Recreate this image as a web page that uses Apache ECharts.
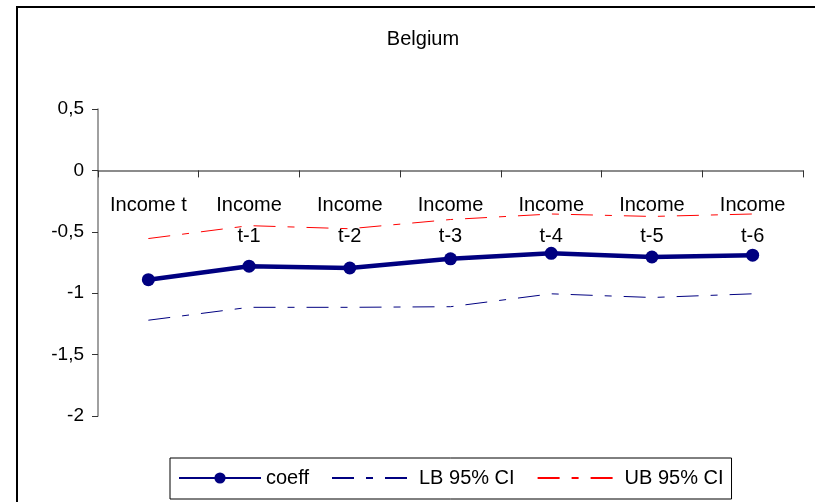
<!DOCTYPE html>
<html>
<head>
<meta charset="utf-8">
<script src="https://cdn.jsdelivr.net/npm/echarts@6/dist/echarts.min.js"></script>
<style>
  html, body { margin: 0; padding: 0; background: #fff; }
  #chart { width: 815px; height: 502px; }
</style>
</head>
<body>
<div id="chart"></div>
<script>
var categories = ['Income t', 'Income\nt-1', 'Income\nt-2', 'Income\nt-3', 'Income\nt-4', 'Income\nt-5', 'Income\nt-6'];
var coeff = [-0.89, -0.78, -0.795, -0.72, -0.675, -0.705, -0.69];
var lowerCI = [-1.22, -1.115, -1.115, -1.11, -1.005, -1.035, -1.005];
var upperCI = [-0.555, -0.45, -0.475, -0.40, -0.355, -0.375, -0.355];

var font = 'Liberation Sans, Arial, sans-serif';
var dash = [22, 12, 7, 12];
var noMarker = { color: 'rgba(0,0,0,0)', borderWidth: 0 };

var chart = echarts.init(document.getElementById('chart'));
chart.setOption({
  animation: false,
  textStyle: { fontFamily: font, color: '#000' },
  graphic: [{
    type: 'rect',
    shape: { x: 17, y: 7, width: 900, height: 600 },
    style: { fill: 'none', stroke: '#000', lineWidth: 2 },
    silent: true
  }],
  title: {
    text: 'Belgium',
    left: 418,
    top: 24,
    textAlign: 'center',
    textStyle: { fontFamily: font, fontSize: 20, fontWeight: 'normal', color: '#000' }
  },
  grid: { left: 98, right: 12, top: 109, bottom: 86, containLabel: false },
  legend: {
    left: 170,
    top: 458,
    padding: [10, 8, 11, 8],
    borderColor: '#000',
    borderWidth: 1,
    backgroundColor: '#fff',
    itemWidth: 82,
    itemHeight: 14,
    itemGap: 22,
    textStyle: { fontFamily: font, fontSize: 20, color: '#000' },
    data: [
      { name: 'coeff' },
      { name: 'LB 95% CI', itemStyle: noMarker },
      { name: 'UB 95% CI', itemStyle: noMarker }
    ]
  },
  xAxis: {
    type: 'category',
    data: categories,
    boundaryGap: true,
    axisLine: { onZero: false, lineStyle: { color: '#666', width: 1.5 } },
    axisTick: { show: true, length: 7, lineStyle: { color: '#333' } },
    axisLabel: {
      interval: 0,
      margin: 20,
      fontFamily: font,
      fontSize: 20,
      lineHeight: 31,
      color: '#000'
    },
    splitLine: { show: false }
  },
  yAxis: {
    type: 'value',
    min: -2,
    max: 0.5,
    interval: 0.5,
    axisLine: { show: true, lineStyle: { color: '#808080', width: 1.5 } },
    axisTick: { show: true, length: 6, lineStyle: { color: '#333' } },
    axisLabel: {
      margin: 14,
      fontFamily: font,
      fontSize: 19,
      color: '#000',
      formatter: function (v) { return String(v).replace('.', ','); }
    },
    splitLine: { show: false }
  },
  series: [
    {
      name: 'coeff',
      type: 'line',
      data: coeff,
      symbol: 'circle',
      symbolSize: 13,
      itemStyle: { color: '#000080' },
      lineStyle: { color: '#000080', width: 4.5 },
      z: 3
    },
    {
      name: 'LB 95% CI',
      type: 'line',
      data: lowerCI,
      symbol: 'none',
      itemStyle: { color: '#000080' },
      lineStyle: { color: '#000080', width: 1, type: dash }
    },
    {
      name: 'UB 95% CI',
      type: 'line',
      data: upperCI,
      symbol: 'none',
      itemStyle: { color: '#ff0000' },
      lineStyle: { color: '#ff0000', width: 1, type: dash }
    }
  ]
});

// move the category axis (line, ticks and labels) up to the zero line
var zeroY = chart.convertToPixel({ yAxisIndex: 0 }, 0);
var bottomY = chart.convertToPixel({ yAxisIndex: 0 }, -2);
chart.setOption({ xAxis: { offset: -(bottomY - zeroY) } });
</script>
</body>
</html>
